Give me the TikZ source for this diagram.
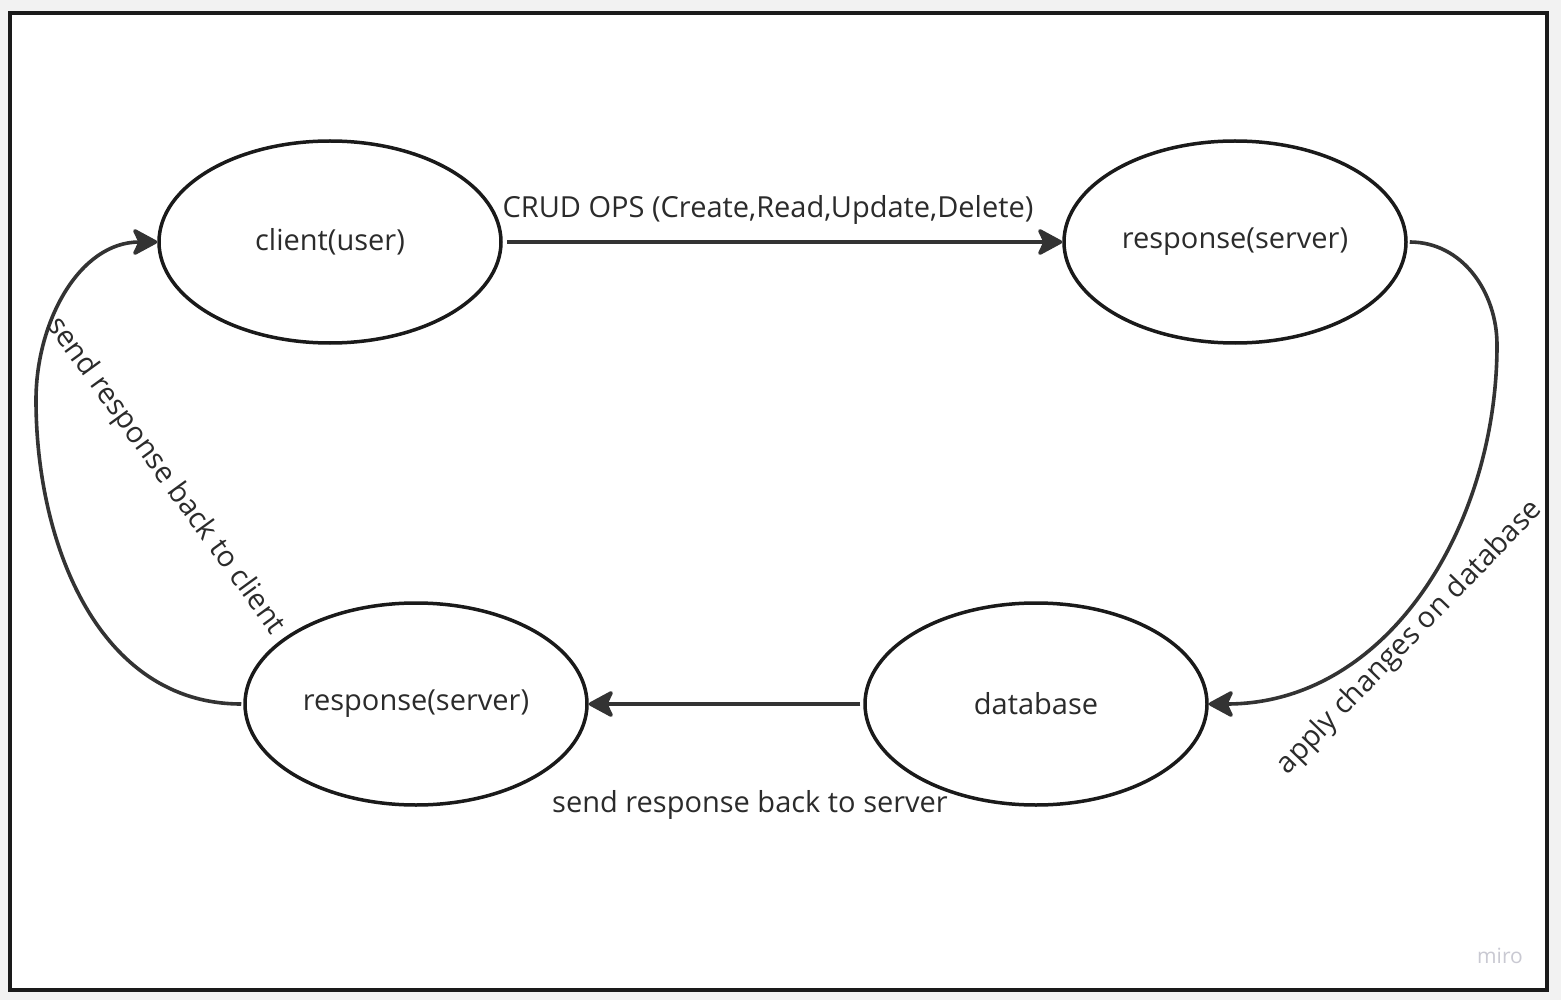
\documentclass[tikz,border=0pt]{standalone}
\usepackage{fontspec}
\setmainfont{Open Sans}
\usetikzlibrary{arrows.meta,shapes.geometric}
\definecolor{bgray}{HTML}{F2F2F2}
\definecolor{ink}{HTML}{1A1A1A}
\definecolor{conncol}{HTML}{333333}
\definecolor{txt}{HTML}{2B2B2B}
\definecolor{logo}{HTML}{C9C9D2}
\tikzset{
  state/.style={ellipse,draw=ink,line width=3.5pt,minimum width=342pt,minimum height=202pt,inner sep=0pt,font=\fontsize{29}{34}\selectfont,text=txt},
  conn/.style={draw=conncol,line width=3.6pt,-{Stealth[length=28pt,width=30pt,inset=7pt,round]}},
  lbl/.style={font=\fontsize{29}{34}\selectfont,text=txt,inner sep=0pt}
}
\begin{document}
\begin{tikzpicture}[x=1pt,y=-1pt]
\fill[bgray] (0,0) rectangle (1561,1000);
\useasboundingbox (0,0) rectangle (1561,1000);
\draw[ink,fill=white,line width=4pt] (10,13) rectangle (1547,990);
\node[state] (client) at (330,242) {client(user)};
\node[state] (srvtop) at (1235,242) {response(server)};
\node[state] (srvbot) at (416,704) {response(server)};
\node[state] (db) at (1036,704) {database};
\coordinate (rmax) at (1497,345);
\coordinate (lmax) at (36,400);
\draw[conn] (client.east) ++(4,0) coordinate (cstart) -- (srvtop.west);
\draw[conn] (db.west) ++(-3,0) coordinate (dstart) -- (srvbot.east);
\draw[conn] (srvtop.east) ++(2,0) coordinate (tstart) to[out=0,in=90] (rmax) to[out=-90,in=0] (db.east);
\draw[conn] (srvbot.west) ++(-2,0) coordinate (bstart) to[out=180,in=-90] (lmax) to[out=90,in=180] (client.west);
\node[lbl] (crud) at (768,210) {CRUD OPS (Create,Read,Update,Delete)};
\node[lbl] (sback) at (750,805) {send response back to server};
\node[lbl,rotate=-54] (cback) at (165,476) {send response back to client};
\node[lbl,rotate=46] (apply) at (1410,638) {apply changes on database};
\node[font=\fontsize{21}{24}\selectfont,text=logo,inner sep=0pt] (miro) at (1500,956) {miro};
\end{tikzpicture}
\end{document}
